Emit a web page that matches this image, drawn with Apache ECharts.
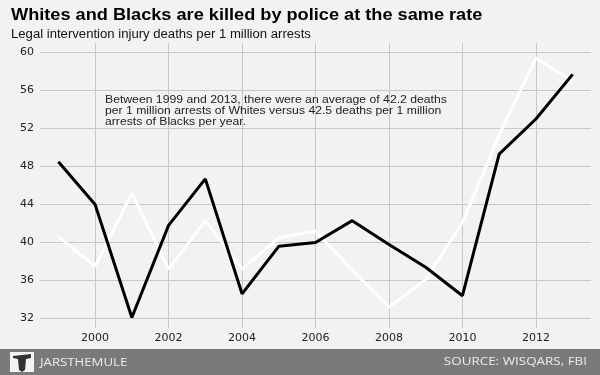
<!DOCTYPE html>
<html>
<head>
<meta charset="utf-8">
<script src="https://cdn.jsdelivr.net/npm/echarts@6/dist/echarts.min.js"></script>
<style>
  html, body { margin: 0; padding: 0; background: #f2f2f2; }
  #chart { width: 600px; height: 375px; }
</style>
</head>
<body>
<div id="chart"></div>
<script>
// 数据
var years = [1999, 2000, 2001, 2002, 2003, 2004, 2005, 2006, 2007, 2008, 2009, 2010, 2011, 2012, 2013];
var blackLine = [48.5, 44.0, 32.1, 41.8, 46.7, 34.6, 39.6, 40.0, 42.3, 39.8, 37.4, 34.4, 49.3, 53.0, 57.7];
var whiteLine = [40.6, 37.5, 45.2, 37.2, 42.3, 37.2, 40.5, 41.2, 37.1, 33.2, 36.1, 42.1, 51.3, 59.4, 57.0];
var yTicks = [32, 36, 40, 44, 48, 52, 56, 60];
var xTicks = [2000, 2002, 2004, 2006, 2008, 2010, 2012];

function pairs(vals) {
  return years.map(function (y, i) { return [y, vals[i]]; });
}

// 文字稍微横向拉伸，跟原图一样
function label(txt, x, y, size, opts) {
  opts = opts || {};
  return {
    type: 'text', x: x, y: y,
    scaleX: opts.sx || 1,
    z: 10,
    style: {
      text: txt,
      fontFamily: opts.font || 'Liberation Sans',
      fontSize: size,
      fontWeight: opts.bold ? 'bold' : 'normal',
      lineHeight: opts.lh,
      fill: opts.color || '#111',
      align: opts.align || 'left',
      verticalAlign: opts.va || 'top'
    }
  };
}

var chart = echarts.init(document.getElementById('chart'));

chart.setOption({
  backgroundColor: '#f2f2f2',
  animation: false,
  grid: { left: 40, right: 9, top: 43, bottom: 47 },
  xAxis: {
    type: 'value',
    min: 1998.5,
    max: 2013.5,
    axisLine: { show: false },
    axisTick: { show: false, customValues: xTicks },
    axisLabel: {
      customValues: xTicks,
      formatter: function (v) { return String(v); },
      margin: 5,
      fontFamily: 'DejaVu Sans', fontSize: 11, color: '#222'
    },
    splitLine: { show: true, lineStyle: { color: '#c8c8c8', width: 1 } }
  },
  yAxis: {
    type: 'value',
    min: 31,
    max: 61,
    axisLine: { show: false },
    axisTick: { show: false, customValues: yTicks },
    axisLabel: {
      customValues: yTicks,
      margin: 6,
      fontFamily: 'DejaVu Sans', fontSize: 11, color: '#222'
    },
    splitLine: { show: true, lineStyle: { color: '#c8c8c8', width: 1 } }
  },
  series: [
    {
      name: 'white',
      type: 'line',
      data: pairs(whiteLine),
      symbol: 'none',
      lineStyle: { color: '#ffffff', width: 3 },
      z: 2
    },
    {
      name: 'black',
      type: 'line',
      data: pairs(blackLine),
      symbol: 'none',
      lineStyle: { color: '#000000', width: 3 },
      z: 3
    }
  ],
  graphic: [
    label('Whites and Blacks are killed by police at the same rate', 11, 8, 16, { bold: true, sx: 1.135, color: '#000' }),
    label('Legal intervention injury deaths per 1 million arrests', 11, 28, 12.5, { sx: 1.05 }),
    label('Between 1999 and 2013, there were an average of 42.2 deaths\nper 1 million arrests of Whites versus 42.5 deaths per 1 million\narrests of Blacks per year.',
      105, 94.5, 10, { lh: 11, sx: 1.22, color: '#222' }),
    // 底部条
    {
      type: 'rect', x: 0, y: 349, shape: { width: 600, height: 26 },
      style: { fill: '#7a7a7a' }
    },
    {
      type: 'rect', x: 10, y: 352, shape: { width: 24, height: 20 },
      style: { fill: '#f4f4f4' }
    },
    {
      type: 'polygon', x: 13, y: 354,
      shape: { points: [[0, 2], [18, 0], [18, 4], [13, 5], [12, 16], [9, 18], [6, 16], [5, 5], [0, 4]] },
      style: { fill: '#333' }
    },
    label('JARSTHEMULE', 40, 363, 11, { font: 'Open Sans', sx: 1.2, va: 'middle', color: '#ececec' }),
    label('SOURCE: WISQARS, FBI', 587, 362, 11, { font: 'Open Sans', sx: 1.22, va: 'middle', align: 'right', color: '#ececec' })
  ]
});
</script>
</body>
</html>
